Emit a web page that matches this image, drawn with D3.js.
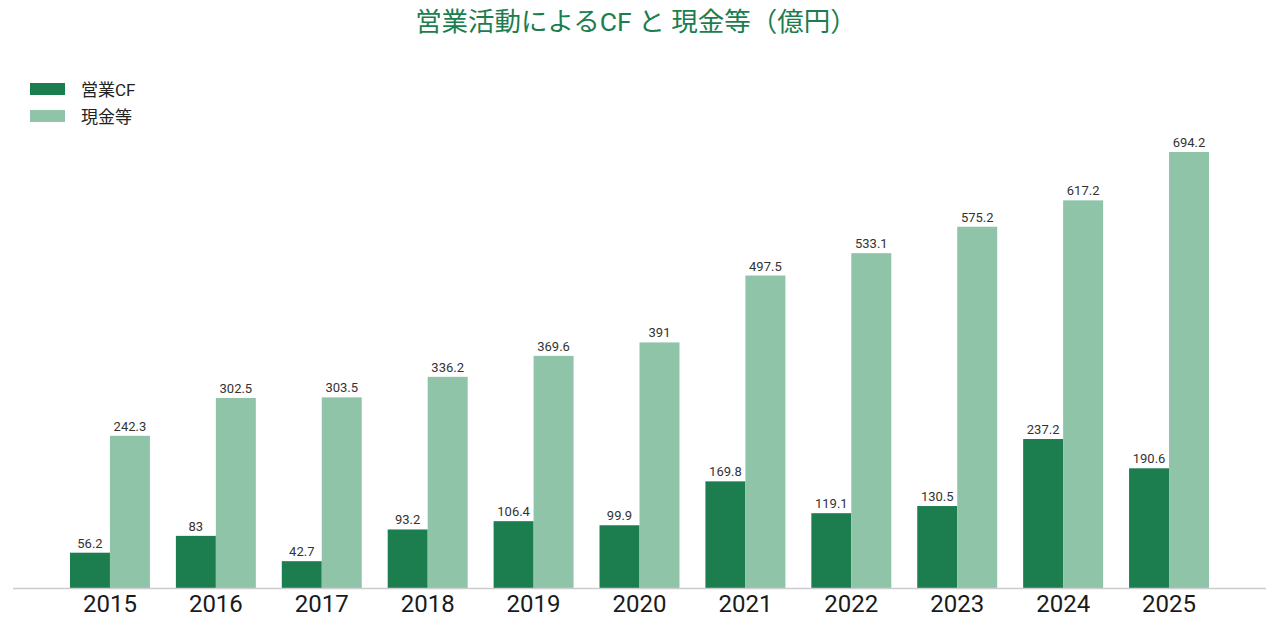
<!DOCTYPE html>
<html><head><meta charset="utf-8">
<script src="https://cdn.jsdelivr.net/npm/d3@7"></script>
<style>body{margin:0;background:#fff;}svg{display:block;font-family:Roboto,"Noto Sans CJK JP",sans-serif;}</style>
</head><body><svg id="c" width="1279" height="628"></svg>
<script>
const years = ["2015","2016","2017","2018","2019","2020","2021","2022","2023","2024","2025"];
const operatingCF = [56.2,83,42.7,93.2,106.4,99.9,169.8,119.1,130.5,237.2,190.6];
const cash = [242.3,302.5,303.5,336.2,369.6,391,497.5,533.1,575.2,617.2,694.2];
const seriesNames = ["営業CF","現金等"];
const colors = ["#1c7d4f","#8fc4a8"];

const svg = d3.select("#c");
const x = d3.scaleBand().domain(years).range([57,1222]).paddingInner(0.245).paddingOuter(0.1225);
const xs = d3.scaleBand().domain([0,1]).range([0,x.bandwidth()]);
const y = d3.scaleLinear().domain([0,694.2]).range([588,152]);

svg.append("text").attr("x",636).attr("y",31).attr("text-anchor","middle")
  .attr("font-size",26.5).attr("fill","#1c7d4f").text("営業活動によるCF と 現金等（億円）");

const data = [operatingCF, cash];
data.forEach((vals,si)=>{
  const g = svg.append("g");
  g.selectAll("rect").data(vals).join("rect")
    .attr("x",(d,i)=>x(years[i])+xs(si)).attr("width",xs.bandwidth())
    .attr("y",d=>y(d)).attr("height",d=>y(0)-y(d)).attr("fill",colors[si]);
  g.selectAll("text").data(vals).join("text")
    .attr("x",(d,i)=>x(years[i])+xs(si)+xs.bandwidth()/2).attr("y",d=>y(d)-5)
    .attr("text-anchor","middle").attr("font-size",13).attr("fill","#333").text(d=>d);
});

svg.append("line").attr("x1",13).attr("x2",1266).attr("y1",588.5).attr("y2",588.5)
  .attr("stroke","#ccc").attr("stroke-width",1.5);

const xAxis = svg.append("g").attr("transform","translate(0,588)")
  .call(d3.axisBottom(x).tickSize(0).tickPadding(7));
xAxis.select(".domain").remove();
xAxis.selectAll("text").attr("font-size",24).attr("fill","#1a1a1a").attr("font-family","Roboto,sans-serif");

seriesNames.forEach((n,i)=>{
  svg.append("rect").attr("x",30).attr("y",83+i*27).attr("width",35).attr("height",12).attr("fill",colors[i]);
  svg.append("text").attr("x",81).attr("y",96+i*27).attr("font-size",17).attr("fill","#222").text(n);
});
</script></body></html>
